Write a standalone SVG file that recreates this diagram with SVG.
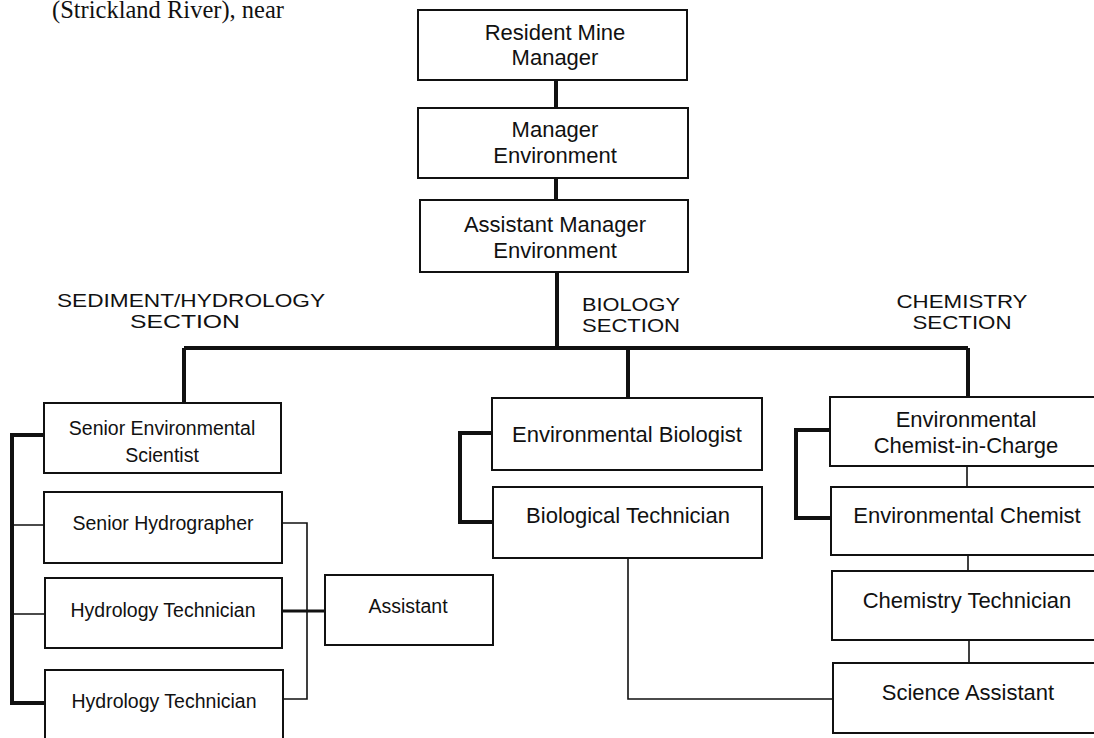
<svg xmlns="http://www.w3.org/2000/svg" width="1094" height="738" viewBox="0 0 1094 738">
<style>
.box{fill:#fff;stroke:#111;stroke-width:2}
.t{font-family:"Liberation Sans",Arial,sans-serif;font-size:22px;fill:#111;text-anchor:middle}
.s{font-family:"Liberation Sans",Arial,sans-serif;font-size:19.5px;fill:#111;text-anchor:middle}
.h{font-family:"Liberation Sans",Arial,sans-serif;font-size:18.5px;fill:#111}
.thick{fill:none;stroke:#111;stroke-width:4}
.thin{fill:none;stroke:#111;stroke-width:1.6}
.mid{fill:none;stroke:#111;stroke-width:2.8}
</style>
<rect width="1094" height="738" fill="#fff"/>
<text x="52" y="18" font-family="'Liberation Serif','Times New Roman',serif" font-size="24.5" fill="#111">(Strickland River), near</text>

<g id="labels">
<text class="h" x="191" y="307" text-anchor="middle" textLength="268" lengthAdjust="spacingAndGlyphs">SEDIMENT/HYDROLOGY</text>
<text class="h" x="185" y="328" text-anchor="middle" textLength="110" lengthAdjust="spacingAndGlyphs">SECTION</text>
<text class="h" x="582" y="311" textLength="98" lengthAdjust="spacingAndGlyphs">BIOLOGY</text>
<text class="h" x="582" y="332" textLength="98" lengthAdjust="spacingAndGlyphs">SECTION</text>
<text class="h" x="962" y="308" text-anchor="middle" textLength="131" lengthAdjust="spacingAndGlyphs">CHEMISTRY</text>
<text class="h" x="962" y="329" text-anchor="middle" textLength="99" lengthAdjust="spacingAndGlyphs">SECTION</text>
</g>

<g id="connectors">
<path class="thick" d="M556 80V108M556 178V200M557 272V348M184 348H968M184 348V403M628 348V398M968 348V397"/>
<path class="thick" d="M44 435H12V703H44"/>
<path class="thin" d="M12 525H44M12 614H44"/>
<path class="thin" d="M282 523H307V699H282"/>
<path class="mid" d="M282 611H325"/>
<path class="thick" d="M492 433H460V522H493"/>
<path class="thin" d="M628 558V699H833"/>
<path class="thick" d="M831 430H796V518H831"/>
<path class="thin" d="M967 466V487M968 555V571M969 640V663"/>
</g>

<g id="resident-mine-manager">
<rect class="box" x="418" y="10" width="269" height="70"/>
<text class="t" x="555" y="40">Resident Mine</text>
<text class="t" x="555" y="65">Manager</text>
</g>
<g id="manager-environment">
<rect class="box" x="418" y="108" width="270" height="70"/>
<text class="t" x="555" y="137">Manager</text>
<text class="t" x="555" y="163">Environment</text>
</g>
<g id="assistant-manager-environment">
<rect class="box" x="420" y="200" width="268" height="72"/>
<text class="t" x="555" y="232">Assistant Manager</text>
<text class="t" x="555" y="258">Environment</text>
</g>

<g id="senior-environmental-scientist">
<rect class="box" x="44" y="403" width="237" height="70"/>
<text class="s" x="162" y="435">Senior Environmental</text>
<text class="s" x="162" y="462">Scientist</text>
</g>
<g id="senior-hydrographer">
<rect class="box" x="44" y="492" width="238" height="71"/>
<text class="s" x="163" y="530">Senior Hydrographer</text>
</g>
<g id="hydrology-technician-1">
<rect class="box" x="45" y="578" width="237" height="70"/>
<text class="s" x="163" y="617">Hydrology Technician</text>
</g>
<g id="hydrology-technician-2">
<rect class="box" x="45" y="670" width="238" height="80"/>
<text class="s" x="164" y="708">Hydrology Technician</text>
</g>
<g id="assistant">
<rect class="box" x="325" y="575" width="168" height="70"/>
<text class="s" x="408" y="613">Assistant</text>
</g>

<g id="environmental-biologist">
<rect class="box" x="492" y="398" width="270" height="72"/>
<text class="t" x="627" y="442">Environmental Biologist</text>
</g>
<g id="biological-technician">
<rect class="box" x="493" y="487" width="269" height="71"/>
<text class="t" x="628" y="523">Biological Technician</text>
</g>

<g id="environmental-chemist-in-charge">
<rect class="box" x="830" y="397" width="275" height="69"/>
<text class="t" x="966" y="427">Environmental</text>
<text class="t" x="966" y="453">Chemist-in-Charge</text>
</g>
<g id="environmental-chemist">
<rect class="box" x="831" y="487" width="275" height="68"/>
<text class="t" x="967" y="523">Environmental Chemist</text>
</g>
<g id="chemistry-technician">
<rect class="box" x="832" y="571" width="275" height="69"/>
<text class="t" x="967" y="608">Chemistry Technician</text>
</g>
<g id="science-assistant">
<rect class="box" x="833" y="663" width="275" height="70"/>
<text class="t" x="968" y="700">Science Assistant</text>
</g>
</svg>
